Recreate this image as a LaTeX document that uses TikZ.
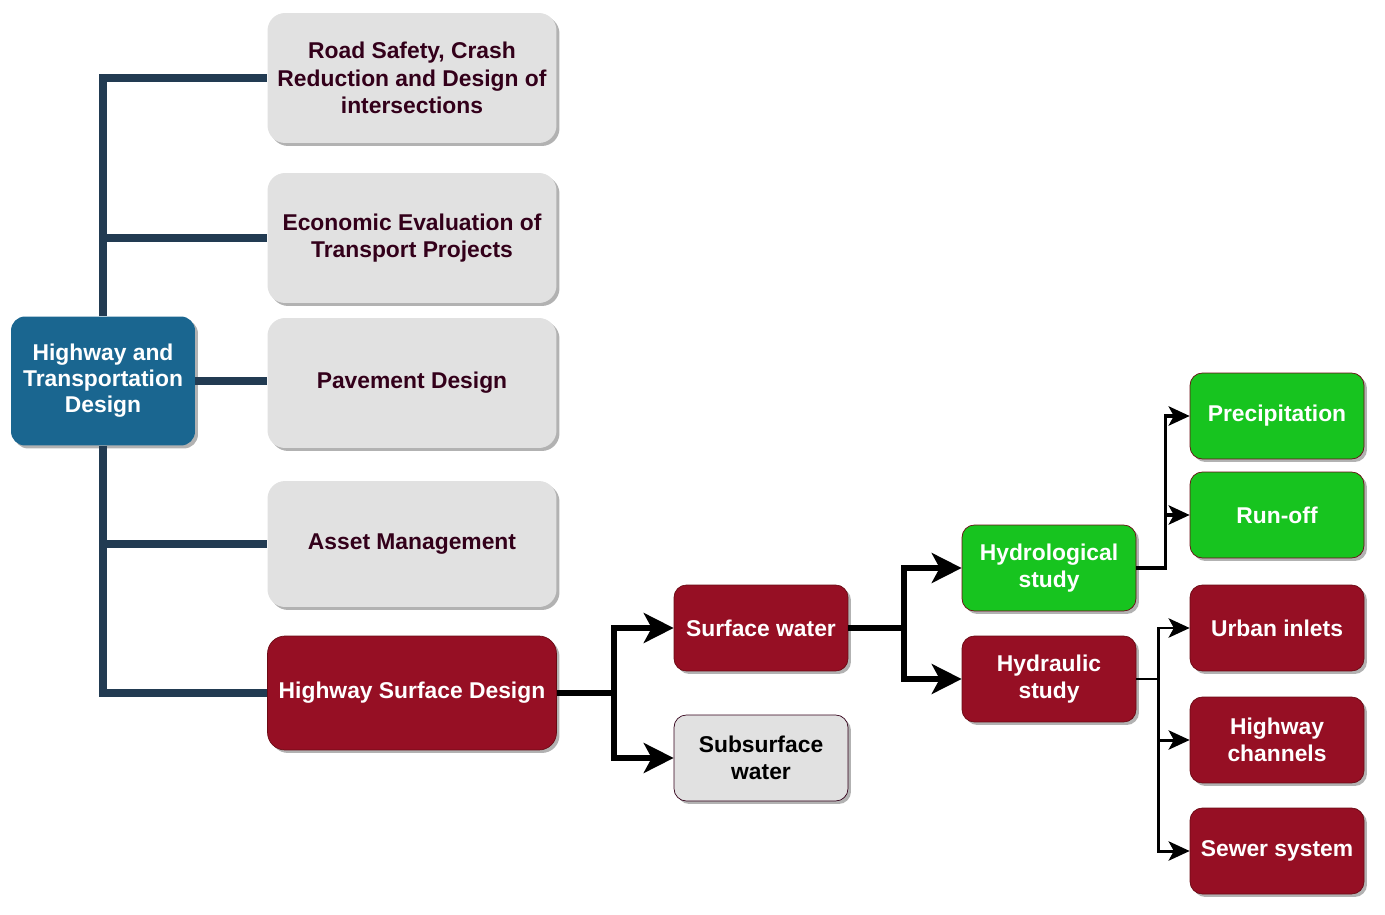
\documentclass[tikz,border=0pt]{standalone}
\usepackage{fontspec}
\setmainfont{Liberation Sans}
\usetikzlibrary{arrows.meta,shadows}
\definecolor{rootblue}{HTML}{1A6690}
\definecolor{trunkc}{HTML}{223B52}
\definecolor{hwred}{HTML}{960F24}
\definecolor{hwgreen}{HTML}{17C41F}
\definecolor{boxgray}{HTML}{E1E1E1}
\definecolor{txtdark}{HTML}{33001A}
\definecolor{edgered}{HTML}{6B0A14}

\begin{document}
\begin{tikzpicture}[x=0.02cm,y=-0.02cm,font=\fontsize{13}{15.6}\selectfont\bfseries,
 shd/.style={drop shadow={shadow xshift=1.7pt,shadow yshift=-1.7pt,fill=black,opacity=.3}},
 topic/.style={shd,rounded corners=10pt,fill=boxgray,text=txtdark,align=center,inner sep=2pt,minimum width=5.78cm,minimum height=2.6cm},
 leaf/.style={shd,draw=edgered,rounded corners=7pt,fill=hwred,text=white,align=center,inner sep=2pt,minimum width=3.48cm,minimum height=1.72cm},
 trunk/.style={draw=trunkc,line width=5pt},
 bigflow/.style={line width=3.4pt,-{Stealth[length=17pt,width=17pt,inset=4.5pt]}},
 thinflow/.style={line width=2pt,-{Stealth[length=12pt,width=11pt,inset=3pt]}}]
\useasboundingbox (0,0) rectangle (1385,915);
\node[shd,rounded corners=8pt,fill=rootblue,text=white,align=center,font=\fontsize{13}{14.8}\selectfont\bfseries,minimum width=3.68cm,minimum height=2.58cm] (root) at (103,381) {Highway and\\Transportation\\Design};
\node[topic] (t1) at (412,78) {Road Safety, Crash\\Reduction and Design of\\intersections};
\node[topic] (t2) at (412,238) {Economic Evaluation of\\Transport Projects};
\node[topic] (t3) at (412,383) {Pavement Design};
\node[topic,minimum height=2.52cm] (t4) at (412,544) {Asset Management};
\node[topic,draw=edgered,fill=hwred,text=white,minimum height=2.28cm] (t5) at (412,693) {Highway Surface Design};
\node[leaf] (surf) at (761,628) {Surface water};
\node[leaf,draw=txtdark,fill=boxgray,text=black] (subs) at (761,758) {Subsurface\\water};
\node[leaf,fill=hwgreen] (hydro) at (1049,568) {Hydrological\\study};
\node[leaf] (hydra) at (1049,679) {Hydraulic\\study};
\node[leaf,fill=hwgreen] (prec) at (1277,416) {Precipitation};
\node[leaf,fill=hwgreen] (runoff) at (1277,515) {Run-off};
\node[leaf] (urban) at (1277,628) {Urban inlets};
\node[leaf] (chan) at (1277,740) {Highway\\channels};
\node[leaf] (sewer) at (1277,851) {Sewer system};
\foreach \t in {t1,t2} \draw[trunk] (root.north) |- (\t.west);
\foreach \t in {t4,t5} \draw[trunk] (root.south) |- (\t.west);
\draw[trunk] (root.east) -- (root.east -| t3.west);
\foreach \t in {surf,subs} \draw[bigflow] (t5.east) -- ++(57,0) |- (\t.west);
\foreach \t in {hydro,hydra} \draw[bigflow] (surf.east) -- ++(56,0) |- (\t.west);
\foreach \t in {prec,runoff} \draw[thinflow] (hydro.east) -- ++(29,0) |- (\t.west);
\foreach \t in {urban,chan,sewer} \draw[thinflow,line width=1.7pt] (hydra.east) -- ++(22,0) |- (\t.west);
\end{tikzpicture}
\end{document}
